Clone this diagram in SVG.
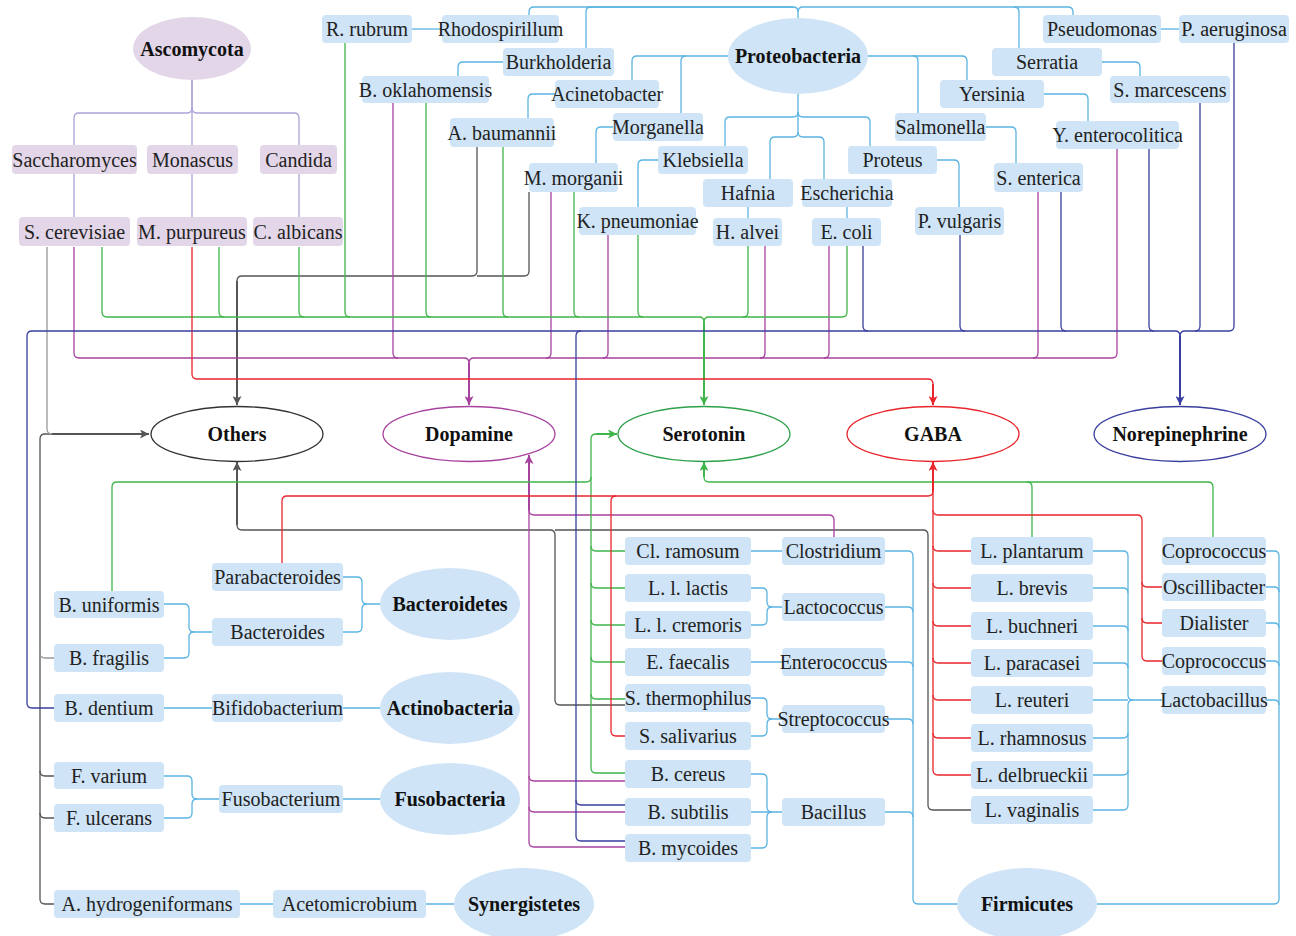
<svg xmlns="http://www.w3.org/2000/svg" width="1296" height="936" viewBox="0 0 1296 936">
<style>
.t{font-family:"Liberation Serif","Times New Roman",serif;font-size:20px;fill:#222;text-anchor:middle}
.tb{font-weight:bold;fill:#111}
.bx{fill:#cfe4f6}
.px{fill:#e3d6e8}
.lav{stroke:#aaa3d6;stroke-width:1.3;fill:none}
.sky{stroke:#5ab4e2;stroke-width:1.3;fill:none}
.gray{stroke:#555;stroke-width:1.3;fill:none}
.lgray{stroke:#999;stroke-width:1.3;fill:none}
.mag{stroke:#a8429f;stroke-width:1.3;fill:none}
.grn{stroke:#3fb54a;stroke-width:1.3;fill:none}
.red{stroke:#e8262c;stroke-width:1.3;fill:none}
.nav{stroke:#3a3f9f;stroke-width:1.3;fill:none}
.trunk{stroke-width:2}
</style>
<defs>
<marker id="a-gray" viewBox="0 0 10 10" refX="10" refY="5" markerWidth="9" markerHeight="9" markerUnits="userSpaceOnUse" orient="auto"><path d="M0,0 L10,5 L0,10 L2.5,5 Z" fill="#555"/></marker>
<marker id="a-mag" viewBox="0 0 10 10" refX="10" refY="5" markerWidth="9" markerHeight="9" markerUnits="userSpaceOnUse" orient="auto"><path d="M0,0 L10,5 L0,10 L2.5,5 Z" fill="#a8429f"/></marker>
<marker id="a-grn" viewBox="0 0 10 10" refX="10" refY="5" markerWidth="9" markerHeight="9" markerUnits="userSpaceOnUse" orient="auto"><path d="M0,0 L10,5 L0,10 L2.5,5 Z" fill="#3fb54a"/></marker>
<marker id="a-red" viewBox="0 0 10 10" refX="10" refY="5" markerWidth="9" markerHeight="9" markerUnits="userSpaceOnUse" orient="auto"><path d="M0,0 L10,5 L0,10 L2.5,5 Z" fill="#e8262c"/></marker>
<marker id="a-nav" viewBox="0 0 10 10" refX="10" refY="5" markerWidth="9" markerHeight="9" markerUnits="userSpaceOnUse" orient="auto"><path d="M0,0 L10,5 L0,10 L2.5,5 Z" fill="#3a3f9f"/></marker>
</defs>
<rect width="1296" height="936" fill="#fff"/>
<g id="connectors">
 <g class="lav">
  <path d="M192 80 V108 Q192 113 187 113 H79 Q74 113 74 118 V145"/>
  <path d="M192 80 V145"/>
  <path d="M192 108 Q192 113 197 113 H294 Q299 113 299 118 V145"/>
  <path d="M74 174 V217 M192 174 V217 M299 174 V217"/>
 </g>
 <g class="sky">
  <path d="M798 18 V12 Q798 7 793 7 H534 Q529 7 529 12 V15"/>
  <path d="M793 7 H591 Q586 7 586 12 V48"/>
  <path d="M798 12 Q798 7 803 7 H1014 Q1019 7 1019 12 V48"/>
  <path d="M1014 7 H1068 Q1073 7 1073 12 V15"/>
  <path d="M728 56 H686 Q681 56 681 61 V113"/>
  <path d="M686 56 H637 Q632 56 632 61 V80"/>
  <path d="M868 56 H913 Q918 56 918 61 V113"/>
  <path d="M913 56 H962 Q967 56 967 61 V80"/>
  <path d="M798 94 V112 Q798 117 793 117 H730 Q725 117 725 122 V146"/>
  <path d="M798 112 Q798 117 803 117 H865 Q870 117 870 122 V146"/>
  <path d="M798 112 V132 Q798 137 793 137 H775 Q770 137 770 142 V179"/>
  <path d="M798 132 Q798 137 803 137 H819 Q824 137 824 142 V179"/>
  <path d="M412 29 H442"/>
  <path d="M503 62 H463 Q458 62 458 67 V76"/>
  <path d="M555 94 H533 Q528 94 528 99 V118"/>
  <path d="M613 127 H601 Q596 127 596 132 V163"/>
  <path d="M658 160 H643 Q638 160 638 165 V207"/>
  <path d="M748 207 V218 M847 207 V218"/>
  <path d="M937 160 H954 Q959 160 959 165 V207"/>
  <path d="M986 127 H1011 Q1016 127 1016 132 V163"/>
  <path d="M1044 94 H1083 Q1088 94 1088 99 V121"/>
  <path d="M1102 62 H1135 Q1140 62 1140 67 V76"/>
  <path d="M1161 29 H1179"/>
  <!-- bottom phyla -->
  <path d="M343 577 H357 Q362 577 362 582 V599 Q362 604 367 604 H381"/>
  <path d="M343 632 H357 Q362 632 362 627 V609 Q362 604 367 604"/>
  <path d="M164 604 H184 Q189 604 189 609 V627 Q189 632 194 632 H212"/>
  <path d="M164 658 H184 Q189 658 189 653 V637 Q189 632 194 632"/>
  <path d="M164 708 H212 M343 708 H380"/>
  <path d="M343 799 H380"/>
  <path d="M164 776 H187 Q192 776 192 781 V794 Q192 799 197 799 H219"/>
  <path d="M164 818 H187 Q192 818 192 813 V804 Q192 799 197 799"/>
  <path d="M240 904 H273 M426 904 H454"/>
  <!-- firmicutes -->
  <path d="M751 551 H782 M751 662 H782 M751 812 H782"/>
  <path d="M751 588 H762 Q767 588 767 593 V602 Q767 607 772 607 H782"/>
  <path d="M751 625 H762 Q767 625 767 620 V612 Q767 607 772 607"/>
  <path d="M751 698 H762 Q767 698 767 703 V714 Q767 719 772 719 H782"/>
  <path d="M751 736 H762 Q767 736 767 731 V724 Q767 719 772 719"/>
  <path d="M751 774 H762 Q767 774 767 779 V807 Q767 812 772 812"/>
  <path d="M751 848 H762 Q767 848 767 843 V817 Q767 812 772 812"/>
  <path d="M885 551 H908 Q913 551 913 556 V899 Q913 904 918 904 H957"/>
  <path d="M885 607 H908 Q913 607 913 612"/>
  <path d="M885 662 H908 Q913 662 913 667"/>
  <path d="M885 719 H908 Q913 719 913 724"/>
  <path d="M885 812 H908 Q913 812 913 817"/>
  <path d="M1093 551 H1123 Q1128 551 1128 556 V695 Q1128 700 1133 700 H1162"/>
  <path d="M1093 588 H1123 Q1128 588 1128 593"/>
  <path d="M1093 626 H1123 Q1128 626 1128 631"/>
  <path d="M1093 663 H1123 Q1128 663 1128 668"/>
  <path d="M1093 700 H1128"/>
  <path d="M1093 810 H1123 Q1128 810 1128 805 V705 Q1128 700 1133 700"/>
  <path d="M1093 738 H1123 Q1128 738 1128 733"/>
  <path d="M1093 775 H1123 Q1128 775 1128 770"/>
  <path d="M1266 551 H1274 Q1279 551 1279 556 V899 Q1279 904 1274 904 H1097"/>
  <path d="M1266 587 H1274 Q1279 587 1279 592"/>
  <path d="M1266 623 H1274 Q1279 623 1279 628"/>
  <path d="M1266 661 H1274 Q1279 661 1279 666"/>
  <path d="M1266 700 H1274 Q1279 700 1279 705"/>
 </g>
 <!-- Others -->
 <g class="gray">
  <path d="M477 147 V271 Q477 276 472 276 H242 Q237 276 237 281"/>
  <path d="M529 192 V271 Q529 276 524 276 H477"/>
  <path d="M54 904 H45 Q40 904 40 899 V439 Q40 434 45 434 H52"/>
  <path d="M54 776 H45 Q40 776 40 771 M54 818 H45 Q40 818 40 813"/>
  <path d="M625 705 H560 Q555 705 555 700 V535 Q555 530 550 530 H242 Q237 530 237 525"/>
  <path d="M971 810 H933 Q928 810 928 805 V535 Q928 530 923 530 H555"/>
  <path class="trunk" d="M237 281 V405" marker-end="url(#a-gray)"/>
  <path class="trunk" d="M52 434 H149" marker-end="url(#a-gray)"/>
  <path class="trunk" d="M237 525 V462" marker-end="url(#a-gray)"/>
 </g>
 <g class="lgray">
  <path d="M47 247 V429 Q47 434 52 434"/>
  <path d="M54 658 H45 Q40 658 40 653"/>
 </g>
 <!-- Dopamine -->
 <g class="mag">
  <path d="M74 247 V353 Q74 358 79 358 H464 Q469 358 469 363"/>
  <path d="M393 103 V353 Q393 358 398 358"/>
  <path d="M1117 149 V353 Q1117 358 1112 358 H474 Q469 358 469 363"/>
  <path d="M551 192 V353 Q551 358 546 358"/>
  <path d="M608 235 V353 Q608 358 603 358"/>
  <path d="M765 246 V353 Q765 358 760 358"/>
  <path d="M829 246 V353 Q829 358 824 358"/>
  <path d="M1038 192 V353 Q1038 358 1033 358"/>
  <path d="M834 537 V520 Q834 515 829 515 H534 Q529 515 529 510"/>
  <path d="M625 847 H534 Q529 847 529 842 V510"/>
  <path d="M625 781 H534 Q529 781 529 776"/>
  <path d="M625 812 H534 Q529 812 529 807"/>
  <path class="trunk" d="M469 363 V405" marker-end="url(#a-mag)"/>
  <path class="trunk" d="M529 510 V455" marker-end="url(#a-mag)"/>
 </g>
 <!-- Serotonin -->
 <g class="grn">
  <path d="M102 247 V312 Q102 317 107 317 H699 Q704 317 704 322"/>
  <path d="M219 247 V312 Q219 317 224 317"/>
  <path d="M299 247 V312 Q299 317 304 317"/>
  <path d="M345 43 V312 Q345 317 350 317"/>
  <path d="M426 103 V312 Q426 317 431 317"/>
  <path d="M503 147 V312 Q503 317 508 317"/>
  <path d="M574 192 V312 Q574 317 579 317"/>
  <path d="M638 235 V312 Q638 317 643 317"/>
  <path d="M847 246 V312 Q847 317 842 317 H709 Q704 317 704 322"/>
  <path d="M748 246 V312 Q748 317 743 317"/>
  <path d="M112 591 V487 Q112 482 117 482 H586 Q591 482 591 477"/>
  <path d="M625 773 H596 Q591 773 591 768 V439 Q591 434 596 434"/>
  <path d="M625 551 H596 Q591 551 591 546"/>
  <path d="M625 588 H596 Q591 588 591 583"/>
  <path d="M625 625 H596 Q591 625 591 620"/>
  <path d="M625 662 H596 Q591 662 591 657"/>
  <path d="M625 699 H596 Q591 699 591 694"/>
  <path d="M1213 537 V487 Q1213 482 1208 482 H709 Q704 482 704 477"/>
  <path d="M1032 537 V487 Q1032 482 1027 482"/>
  <path class="trunk" d="M704 322 V405" marker-end="url(#a-grn)"/>
  <path class="trunk" d="M596 434 H617" marker-end="url(#a-grn)"/>
  <path class="trunk" d="M704 477 V462" marker-end="url(#a-grn)"/>
 </g>
 <!-- GABA -->
 <g class="red">
  <path d="M192 247 V374 Q192 379 197 379 H928 Q933 379 933 384"/>
  <path d="M282 563 V501 Q282 496 287 496 H928 Q933 496 933 491"/>
  <path d="M625 736 H616 Q611 736 611 731 V501 Q611 496 616 496"/>
  <path d="M971 775 H938 Q933 775 933 770 V491"/>
  <path d="M971 551 H938 Q933 551 933 546"/>
  <path d="M971 588 H938 Q933 588 933 583"/>
  <path d="M971 626 H938 Q933 626 933 621"/>
  <path d="M971 663 H938 Q933 663 933 658"/>
  <path d="M971 700 H938 Q933 700 933 695"/>
  <path d="M971 738 H938 Q933 738 933 733"/>
  <path d="M1162 661 H1147 Q1142 661 1142 656 V520 Q1142 515 1137 515 H938 Q933 515 933 510"/>
  <path d="M1162 587 H1147 Q1142 587 1142 582"/>
  <path d="M1162 623 H1147 Q1142 623 1142 618"/>
  <path class="trunk" d="M933 384 V405" marker-end="url(#a-red)"/>
  <path class="trunk" d="M933 491 V462" marker-end="url(#a-red)"/>
 </g>
 <!-- Norepinephrine -->
 <g class="nav">
  <path d="M54 708 H32 Q27 708 27 703 V336 Q27 331 32 331 H1175 Q1180 331 1180 336"/>
  <path d="M625 841 H581 Q576 841 576 836 V336 Q576 331 581 331"/>
  <path d="M625 805 H581 Q576 805 576 800"/>
  <path d="M863 246 V326 Q863 331 868 331"/>
  <path d="M960 235 V326 Q960 331 965 331"/>
  <path d="M1061 192 V326 Q1061 331 1066 331"/>
  <path d="M1149 149 V326 Q1149 331 1154 331"/>
  <path d="M1234 43 V326 Q1234 331 1229 331 H1185 Q1180 331 1180 336"/>
  <path d="M1200 103 V326 Q1200 331 1195 331"/>
  <path class="trunk" d="M1180 336 V405" marker-end="url(#a-nav)"/>
 </g>
</g>

<g id="nodes">
 <g id="ascomycota"><ellipse cx="192" cy="48.5" rx="59" ry="31.5" class="px"/><text x="192" y="55.5" class="t tb">Ascomycota</text></g>
 <g id="saccharomyces"><rect x="12" y="145" width="125" height="29" rx="4" class="px"/><text x="74.5" y="166.5" class="t">Saccharomyces</text></g>
 <g id="monascus"><rect x="147" y="145" width="91" height="29" rx="4" class="px"/><text x="192.5" y="166.5" class="t">Monascus</text></g>
 <g id="candida"><rect x="260" y="145" width="77" height="29" rx="4" class="px"/><text x="298.5" y="166.5" class="t">Candida</text></g>
 <g id="s_cerevisiae"><rect x="19" y="217" width="111" height="29" rx="4" class="px"/><text x="74.5" y="238.5" class="t">S. cerevisiae</text></g>
 <g id="m_purpureus"><rect x="137" y="217" width="110" height="29" rx="4" class="px"/><text x="192" y="238.5" class="t">M. purpureus</text></g>
 <g id="c_albicans"><rect x="253" y="217" width="90" height="29" rx="4" class="px"/><text x="298" y="238.5" class="t">C. albicans</text></g>

 <g id="proteobacteria"><ellipse cx="798" cy="56" rx="70" ry="38" class="bx"/><text x="798" y="63" class="t tb">Proteobacteria</text></g>
 <g id="r_rubrum"><rect x="322" y="15" width="90" height="28" rx="4" class="bx"/><text x="367" y="36" class="t">R. rubrum</text></g>
 <g id="rhodospirillum"><rect x="442" y="15" width="117" height="28" rx="4" class="bx"/><text x="500.5" y="36" class="t">Rhodospirillum</text></g>
 <g id="burkholderia"><rect x="503" y="48" width="111" height="28" rx="4" class="bx"/><text x="558.5" y="69" class="t">Burkholderia</text></g>
 <g id="b_oklahomensis"><rect x="362" y="76" width="127" height="27" rx="4" class="bx"/><text x="425.5" y="96.5" class="t">B. oklahomensis</text></g>
 <g id="acinetobacter"><rect x="555" y="80" width="104" height="28" rx="4" class="bx"/><text x="607" y="101" class="t">Acinetobacter</text></g>
 <g id="a_baumannii"><rect x="450" y="118" width="104" height="29" rx="4" class="bx"/><text x="502" y="139.5" class="t">A. baumannii</text></g>
 <g id="morganella"><rect x="613" y="113" width="90" height="28" rx="4" class="bx"/><text x="658" y="134" class="t">Morganella</text></g>
 <g id="klebsiella"><rect x="658" y="146" width="90" height="28" rx="4" class="bx"/><text x="703" y="167" class="t">Klebsiella</text></g>
 <g id="m_morganii"><rect x="529" y="163" width="89" height="29" rx="4" class="bx"/><text x="573.5" y="184.5" class="t">M. morganii</text></g>
 <g id="k_pneumoniae"><rect x="579" y="207" width="117" height="28" rx="4" class="bx"/><text x="637.5" y="228" class="t">K. pneumoniae</text></g>
 <g id="hafnia"><rect x="703" y="179" width="90" height="28" rx="4" class="bx"/><text x="748" y="200" class="t">Hafnia</text></g>
 <g id="escherichia"><rect x="802" y="179" width="90" height="28" rx="4" class="bx"/><text x="847" y="200" class="t">Escherichia</text></g>
 <g id="h_alvei"><rect x="713" y="218" width="69" height="28" rx="4" class="bx"/><text x="747.5" y="239" class="t">H. alvei</text></g>
 <g id="e_coli"><rect x="812" y="218" width="69" height="28" rx="4" class="bx"/><text x="846.5" y="239" class="t">E. coli</text></g>
 <g id="proteus"><rect x="848" y="146" width="89" height="28" rx="4" class="bx"/><text x="892.5" y="167" class="t">Proteus</text></g>
 <g id="p_vulgaris"><rect x="915" y="207" width="89" height="28" rx="4" class="bx"/><text x="959.5" y="228" class="t">P. vulgaris</text></g>
 <g id="salmonella"><rect x="895" y="113" width="91" height="28" rx="4" class="bx"/><text x="940.5" y="134" class="t">Salmonella</text></g>
 <g id="s_enterica"><rect x="994" y="163" width="89" height="29" rx="4" class="bx"/><text x="1038.5" y="184.5" class="t">S. enterica</text></g>
 <g id="yersinia"><rect x="940" y="80" width="104" height="28" rx="4" class="bx"/><text x="992" y="101" class="t">Yersinia</text></g>
 <g id="y_enterocolitica"><rect x="1056" y="121" width="123" height="28" rx="4" class="bx"/><text x="1117.5" y="142" class="t">Y. enterocolitica</text></g>
 <g id="serratia"><rect x="992" y="48" width="110" height="28" rx="4" class="bx"/><text x="1047" y="69" class="t">Serratia</text></g>
 <g id="s_marcescens"><rect x="1110" y="76" width="120" height="27" rx="4" class="bx"/><text x="1170" y="96.5" class="t">S. marcescens</text></g>
 <g id="pseudomonas"><rect x="1043" y="15" width="118" height="28" rx="4" class="bx"/><text x="1102" y="36" class="t">Pseudomonas</text></g>
 <g id="p_aeruginosa"><rect x="1179" y="15" width="110" height="28" rx="4" class="bx"/><text x="1234" y="36" class="t">P. aeruginosa</text></g>

 <g id="others"><ellipse cx="237" cy="434" rx="86" ry="27.5" fill="#fff" stroke="#333" stroke-width="1.3"/><text x="237" y="441" class="t tb">Others</text></g>
 <g id="dopamine"><ellipse cx="469" cy="434" rx="86" ry="27.5" fill="#fff" stroke="#a8429f" stroke-width="1.3"/><text x="469" y="441" class="t tb">Dopamine</text></g>
 <g id="serotonin"><ellipse cx="704" cy="434" rx="86" ry="27.5" fill="#fff" stroke="#2ea04a" stroke-width="1.3"/><text x="704" y="441" class="t tb">Serotonin</text></g>
 <g id="gaba"><ellipse cx="933" cy="434" rx="86" ry="27.5" fill="#fff" stroke="#e8262c" stroke-width="1.3"/><text x="933" y="441" class="t tb">GABA</text></g>
 <g id="norepinephrine"><ellipse cx="1180" cy="434" rx="86" ry="27.5" fill="#fff" stroke="#3a3f9f" stroke-width="1.3"/><text x="1180" y="441" class="t tb">Norepinephrine</text></g>

 <g id="bacteroidetes"><ellipse cx="450" cy="604" rx="70" ry="36" class="bx"/><text x="450" y="611" class="t tb">Bacteroidetes</text></g>
 <g id="actinobacteria"><ellipse cx="450" cy="708" rx="70" ry="36" class="bx"/><text x="450" y="715" class="t tb">Actinobacteria</text></g>
 <g id="fusobacteria"><ellipse cx="450" cy="799" rx="70" ry="36" class="bx"/><text x="450" y="806" class="t tb">Fusobacteria</text></g>
 <g id="synergistetes"><ellipse cx="524" cy="904" rx="70" ry="36" class="bx"/><text x="524" y="911" class="t tb">Synergistetes</text></g>
 <g id="firmicutes"><ellipse cx="1027" cy="904" rx="70" ry="36" class="bx"/><text x="1027" y="911" class="t tb">Firmicutes</text></g>

 <g id="parabacteroides"><rect x="212" y="563" width="131" height="28" rx="4" class="bx"/><text x="277.5" y="584" class="t">Parabacteroides</text></g>
 <g id="bacteroides"><rect x="212" y="618" width="131" height="28" rx="4" class="bx"/><text x="277.5" y="639" class="t">Bacteroides</text></g>
 <g id="b_uniformis"><rect x="54" y="591" width="110" height="27" rx="4" class="bx"/><text x="109" y="611.5" class="t">B. uniformis</text></g>
 <g id="b_fragilis"><rect x="54" y="644" width="110" height="28" rx="4" class="bx"/><text x="109" y="665" class="t">B. fragilis</text></g>
 <g id="b_dentium"><rect x="54" y="694" width="110" height="28" rx="4" class="bx"/><text x="109" y="715" class="t">B. dentium</text></g>
 <g id="bifidobacterium"><rect x="212" y="694" width="131" height="28" rx="4" class="bx"/><text x="277.5" y="715" class="t">Bifidobacterium</text></g>
 <g id="f_varium"><rect x="54" y="762" width="110" height="27" rx="4" class="bx"/><text x="109" y="782.5" class="t">F. varium</text></g>
 <g id="f_ulcerans"><rect x="54" y="804" width="110" height="28" rx="4" class="bx"/><text x="109" y="825" class="t">F. ulcerans</text></g>
 <g id="fusobacterium"><rect x="219" y="785" width="124" height="28" rx="4" class="bx"/><text x="281" y="806" class="t">Fusobacterium</text></g>
 <g id="a_hydrogeniformans"><rect x="54" y="890" width="186" height="28" rx="4" class="bx"/><text x="147" y="911" class="t">A. hydrogeniformans</text></g>
 <g id="acetomicrobium"><rect x="273" y="890" width="153" height="28" rx="4" class="bx"/><text x="349.5" y="911" class="t">Acetomicrobium</text></g>

 <g id="cl_ramosum"><rect x="625" y="537" width="126" height="28" rx="4" class="bx"/><text x="688" y="558" class="t">Cl. ramosum</text></g>
 <g id="clostridium"><rect x="782" y="537" width="103" height="28" rx="4" class="bx"/><text x="833.5" y="558" class="t">Clostridium</text></g>
 <g id="l_l_lactis"><rect x="625" y="574" width="126" height="28" rx="4" class="bx"/><text x="688" y="595" class="t">L. l. lactis</text></g>
 <g id="l_l_cremoris"><rect x="625" y="611" width="126" height="28" rx="4" class="bx"/><text x="688" y="632" class="t">L. l. cremoris</text></g>
 <g id="lactococcus"><rect x="782" y="593" width="103" height="28" rx="4" class="bx"/><text x="833.5" y="614" class="t">Lactococcus</text></g>
 <g id="e_faecalis"><rect x="625" y="648" width="126" height="28" rx="4" class="bx"/><text x="688" y="669" class="t">E. faecalis</text></g>
 <g id="enterococcus"><rect x="782" y="648" width="103" height="28" rx="4" class="bx"/><text x="833.5" y="669" class="t">Enterococcus</text></g>
 <g id="s_thermophilus"><rect x="625" y="684" width="126" height="28" rx="4" class="bx"/><text x="688" y="705" class="t">S. thermophilus</text></g>
 <g id="s_salivarius"><rect x="625" y="722" width="126" height="28" rx="4" class="bx"/><text x="688" y="743" class="t">S. salivarius</text></g>
 <g id="streptococcus"><rect x="782" y="705" width="103" height="28" rx="4" class="bx"/><text x="833.5" y="726" class="t">Streptococcus</text></g>
 <g id="b_cereus"><rect x="625" y="760" width="126" height="28" rx="4" class="bx"/><text x="688" y="781" class="t">B. cereus</text></g>
 <g id="b_subtilis"><rect x="625" y="798" width="126" height="28" rx="4" class="bx"/><text x="688" y="819" class="t">B. subtilis</text></g>
 <g id="b_mycoides"><rect x="625" y="834" width="126" height="28" rx="4" class="bx"/><text x="688" y="855" class="t">B. mycoides</text></g>
 <g id="bacillus"><rect x="782" y="798" width="103" height="28" rx="4" class="bx"/><text x="833.5" y="819" class="t">Bacillus</text></g>

 <g id="l_plantarum"><rect x="971" y="537" width="122" height="28" rx="4" class="bx"/><text x="1032" y="558" class="t">L. plantarum</text></g>
 <g id="l_brevis"><rect x="971" y="574" width="122" height="28" rx="4" class="bx"/><text x="1032" y="595" class="t">L. brevis</text></g>
 <g id="l_buchneri"><rect x="971" y="612" width="122" height="28" rx="4" class="bx"/><text x="1032" y="633" class="t">L. buchneri</text></g>
 <g id="l_paracasei"><rect x="971" y="649" width="122" height="28" rx="4" class="bx"/><text x="1032" y="670" class="t">L. paracasei</text></g>
 <g id="l_reuteri"><rect x="971" y="686" width="122" height="28" rx="4" class="bx"/><text x="1032" y="707" class="t">L. reuteri</text></g>
 <g id="l_rhamnosus"><rect x="971" y="724" width="122" height="28" rx="4" class="bx"/><text x="1032" y="745" class="t">L. rhamnosus</text></g>
 <g id="l_delbrueckii"><rect x="971" y="761" width="122" height="28" rx="4" class="bx"/><text x="1032" y="782" class="t">L. delbrueckii</text></g>
 <g id="l_vaginalis"><rect x="971" y="796" width="122" height="28" rx="4" class="bx"/><text x="1032" y="817" class="t">L. vaginalis</text></g>

 <g id="coprococcus"><rect x="1162" y="537" width="104" height="28" rx="4" class="bx"/><text x="1214" y="558" class="t">Coprococcus</text></g>
 <g id="oscillibacter"><rect x="1162" y="573" width="104" height="28" rx="4" class="bx"/><text x="1214" y="594" class="t">Oscillibacter</text></g>
 <g id="dialister"><rect x="1162" y="609" width="104" height="28" rx="4" class="bx"/><text x="1214" y="630" class="t">Dialister</text></g>
 <g id="coprococcus_2"><rect x="1162" y="647" width="104" height="28" rx="4" class="bx"/><text x="1214" y="668" class="t">Coprococcus</text></g>
 <g id="lactobacillus"><rect x="1162" y="686" width="104" height="28" rx="4" class="bx"/><text x="1214" y="707" class="t">Lactobacillus</text></g>
</g>
</svg>
